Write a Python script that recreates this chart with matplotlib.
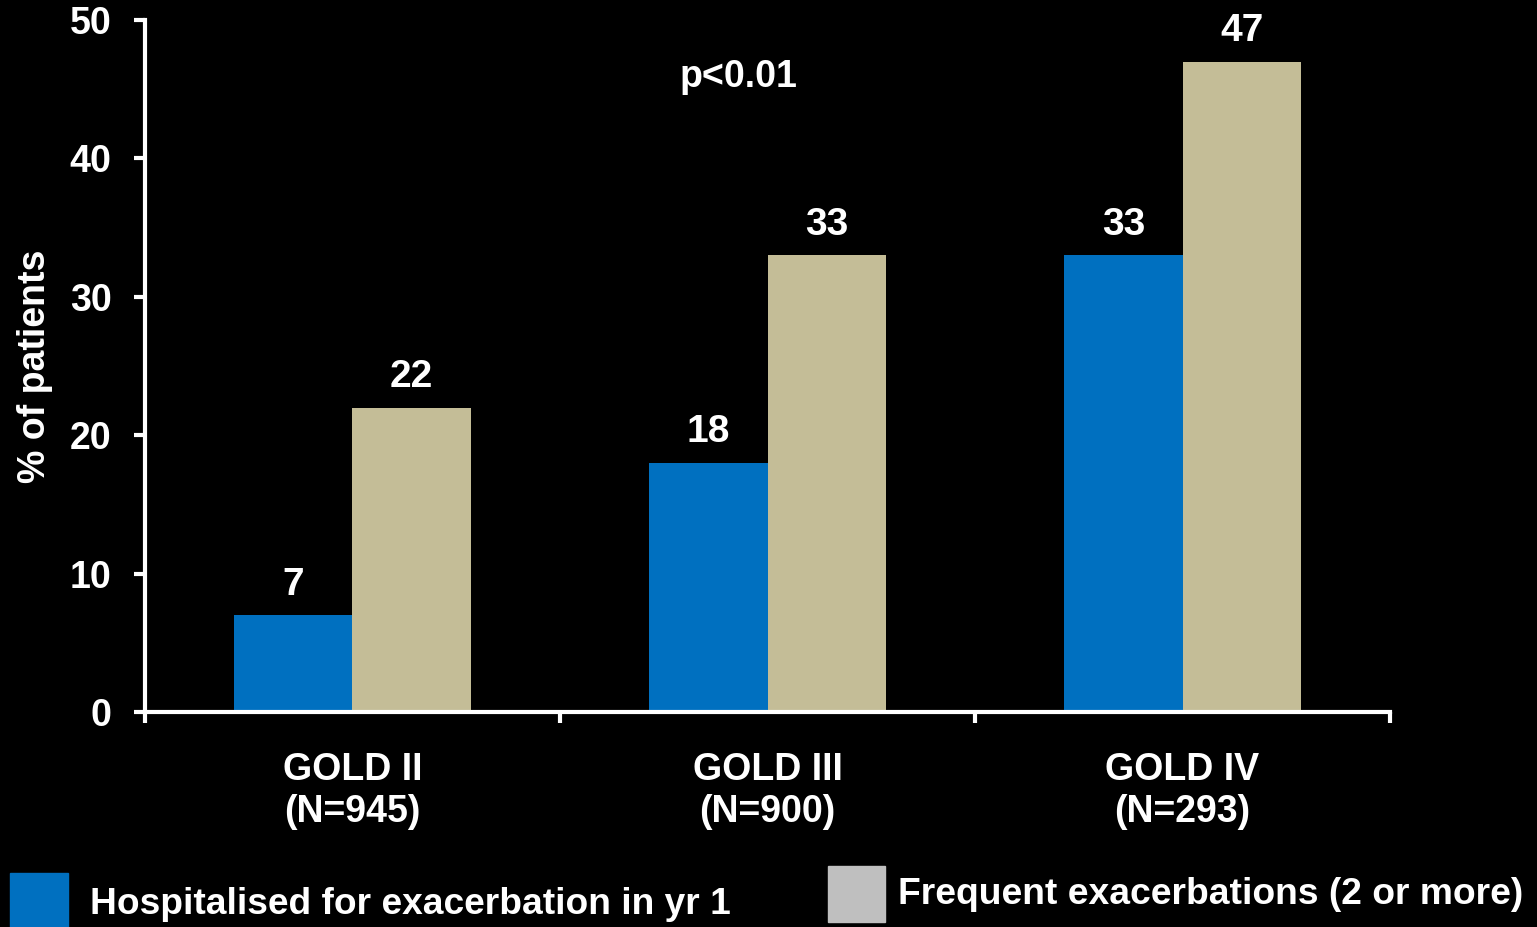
import matplotlib.pyplot as plt
from matplotlib.patches import Rectangle

plt.rcParams['font.family'] = ['Liberation Sans', 'DejaVu Sans']
plt.rcParams['font.weight'] = 'bold'

groups = ["GOLD II\n(N=945)", "GOLD III\n(N=900)", "GOLD IV\n(N=293)"]
hospitalised = [7, 18, 33]
frequent = [22, 33, 47]
y_ticks = [0, 10, 20, 30, 40, 50]

blue = "#0070C0"
tan = "#C4BD97"
legend_grey = "#BFBFBF"

fig = plt.figure(figsize=(15.37, 9.27), dpi=100, facecolor="black")
ax = fig.add_axes([0.0943, 0.2319, 0.8101, 0.7465], facecolor="black")

w = 0.285
x = list(range(len(groups)))
ax.bar([i - w / 2 for i in x], hospitalised, width=w, color=blue, zorder=2)
ax.bar([i + w / 2 for i in x], frequent, width=w, color=tan, zorder=2)

for i in x:
    ax.annotate(str(hospitalised[i]), (i - w / 2, hospitalised[i]), xytext=(0, 9),
                textcoords="offset points", ha="center", va="bottom",
                color="white", fontsize=28, fontweight="bold")
    ax.annotate(str(frequent[i]), (i + w / 2, frequent[i]), xytext=(0, 9),
                textcoords="offset points", ha="center", va="bottom",
                color="white", fontsize=28, fontweight="bold")

ax.text(0.93, 45.9, "p<0.01", ha="center", va="center", color="white",
        fontsize=27, fontweight="bold")

ax.set_xlim(-0.5, 2.5)
ax.set_ylim(0, 50)
ax.set_yticks(y_ticks)
ax.set_yticklabels([str(t) for t in y_ticks])
ax.set_xticks([-0.5, 0.5, 1.5, 2.5])
ax.set_xticklabels([])
ax.set_xticks(x, minor=True)
ax.set_xticklabels(groups, minor=True, linespacing=1.2)
ax.tick_params(axis="x", which="minor", length=0, pad=29, labelsize=27, colors="white")
ax.tick_params(axis="x", which="major", length=8, width=3, color="white")
ax.tick_params(axis="y", length=8, width=3, color="white", labelcolor="white",
               labelsize=27, pad=16)
for lbl in ax.get_xticklabels(minor=True) + ax.get_yticklabels():
    lbl.set_fontweight("bold")

for side in ["top", "right"]:
    ax.spines[side].set_visible(False)
for side in ["left", "bottom"]:
    ax.spines[side].set_color("white")
    ax.spines[side].set_linewidth(3)

ax.set_ylabel("% of patients", color="white", fontsize=27, fontweight="bold", labelpad=12)

# legend drawn as figure patches along the bottom edge
fig.patches.append(Rectangle((10 / 1537, 0), 58 / 1537, 54 / 927,
                             transform=fig.transFigure, color=blue))
fig.text(90 / 1537, 1 - 905 / 927, "Hospitalised for exacerbation in yr 1",
         color="white", fontsize=26.7, fontweight="bold", va="center")
fig.patches.append(Rectangle((828 / 1537, 1 - 922 / 927), 57 / 1537, 56 / 927,
                             transform=fig.transFigure, color=legend_grey))
fig.text(898 / 1537, 1 - 895 / 927, "Frequent exacerbations (2 or more)",
         color="white", fontsize=26.8, fontweight="bold", va="center")

fig.savefig("out.png", dpi=100, facecolor="black")
